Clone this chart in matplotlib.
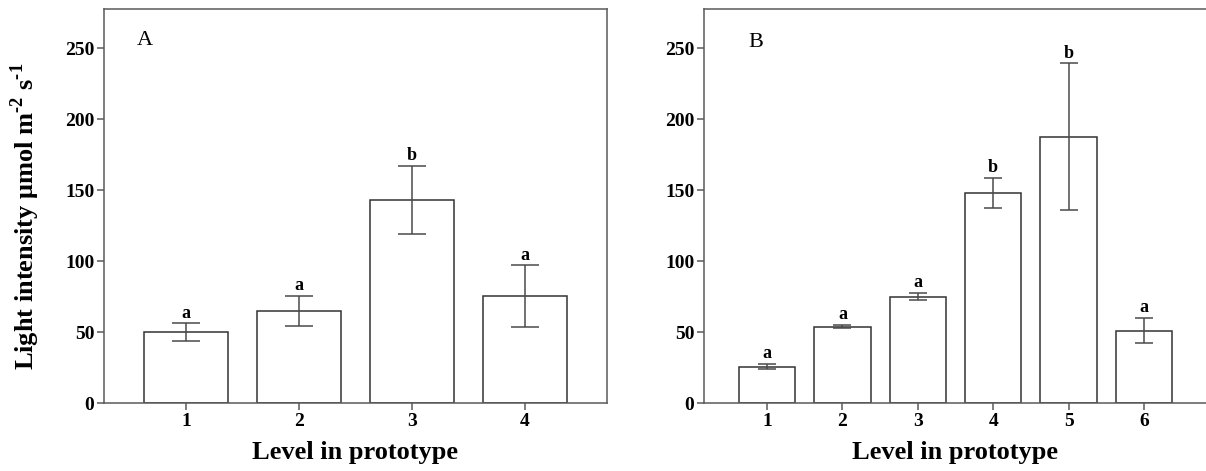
import matplotlib
matplotlib.use("Agg")
import matplotlib.pyplot as plt

# panel A
levels_a = [1, 2, 3, 4]
means_a = [49.8, 65.0, 143.0, 75.1]
se_a = [6.2, 10.5, 24.0, 21.8]
letters_a = ["a", "a", "b", "a"]

# panel B
levels_b = [1, 2, 3, 4, 5, 6]
means_b = [25.6, 53.8, 74.9, 148.1, 187.6, 51.0]
se_b = [1.9, 1.1, 2.7, 10.5, 51.6, 9.0]
letters_b = ["a", "a", "a", "b", "b", "a"]

yticks = [0, 50, 100, 150, 200, 250]

plt.rcParams["font.family"] = ["Liberation Serif", "DejaVu Serif"]
plt.rcParams["mathtext.fontset"] = "custom"
plt.rcParams["mathtext.rm"] = "Liberation Serif:bold"
plt.rcParams["mathtext.bf"] = "Liberation Serif:bold"

SPINE = "#5a5a5a"
EDGE = "#333333"
ERR = "#4a4a4a"

W, H = 1206, 471
fig = plt.figure(figsize=(W / 100, H / 100), dpi=100)
fig.patch.set_facecolor("white")

ax_w = 503 / W
ax_b = 68 / H
ax_h = 394 / H
axA = fig.add_axes([104 / W, ax_b, ax_w, ax_h])
axB = fig.add_axes([704 / W, ax_b, ax_w, ax_h])


def draw(ax, x, m, e, letters, xlim, cap, tag, tagpos):
    ax.bar(x, m, width=0.75, color="white", edgecolor=EDGE, linewidth=1.1, zorder=2)
    ax.errorbar(x, m, yerr=e, fmt="none", ecolor=ERR, elinewidth=1.1,
                capsize=cap, capthick=1.1, zorder=3)
    for xi, mi, ei, s in zip(x, m, e, letters):
        ax.text(xi, mi + ei + 1.2, s, ha="center", va="bottom",
                fontsize=13, fontweight="bold")
    ax.set_xlim(*xlim)
    ax.set_ylim(0, 277.5)
    ax.set_xticks(x)
    ax.set_xticklabels([str(v) for v in x])
    ax.set_yticks(yticks)
    for sp in ax.spines.values():
        sp.set_color(SPINE)
        sp.set_linewidth(1.1)
    ax.tick_params(direction="out", length=5, width=1.1, color=SPINE,
                   labelsize=14, pad=2)
    for lab in ax.get_xticklabels() + ax.get_yticklabels():
        lab.set_fontweight("bold")
    ax.set_xlabel("Level in prototype", fontsize=19, fontweight="bold", labelpad=8)
    ax.text(tagpos[0], tagpos[1], tag, transform=ax.transAxes,
            fontsize=16, ha="center", va="center")


draw(axA, levels_a, means_a, se_a, letters_a, (0.274, 4.726), 10, "A", (0.082, 0.921))
draw(axB, levels_b, means_b, se_b, letters_b, (0.165, 6.835), 6.8, "B", (0.103, 0.914))

fig.text(25 / W, (H - 216) / H,
         "Light intensity μmol m$^{\\mathbf{\u20102}}$ s$^{\\mathbf{\u20101}}$",
         rotation=90, ha="center", va="center", fontsize=19, fontweight="bold")

fig.savefig("out.png", dpi=100, facecolor="white")
